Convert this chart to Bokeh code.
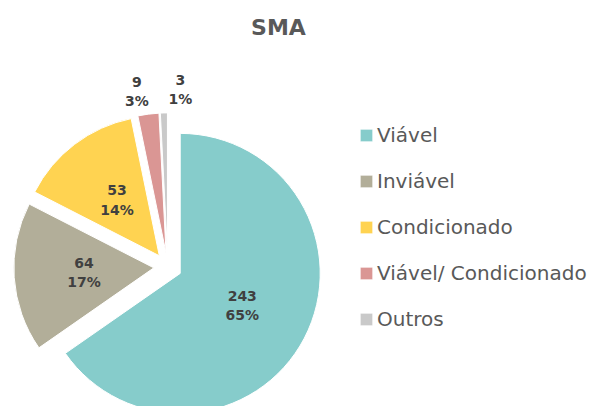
import math
from bokeh.plotting import figure
from bokeh.models import ColumnDataSource, Range1d, Legend, LegendItem, Label
from bokeh.core.properties import value
from bokeh.embed import file_html
from bokeh.resources import INLINE

categories = ["Viável", "Inviável", "Condicionado", "Viável/ Condicionado", "Outros"]
counts = [243, 64, 53, 9, 3]
pct_labels = ["65%", "17%", "14%", "3%", "1%"]
colors = ["#86CCCB", "#B2AE99", "#FFD351", "#DA9694", "#C9C9C9"]

# layout (pixels)
W, H = 613, 406
cx, cy = 167.3, 139.6
R = 140
explode = 14
label_rf = [0.5, 0.5, 0.5, 1.17, 1.17]
label_nudge = [0, 0, 0, 3, -6]

total = sum(counts)
starts, ends, xs, ys, lx, ly, texts = [], [], [], [], [], [], []
cum = 0.0
for i, c in enumerate(counts):
    a0 = math.pi / 2 - 2 * math.pi * cum / total
    cum += c
    a1 = math.pi / 2 - 2 * math.pi * cum / total
    mid = (a0 + a1) / 2
    x = cx + explode * math.cos(mid)
    y = cy + explode * math.sin(mid)
    starts.append(a0)
    ends.append(a1)
    xs.append(x)
    ys.append(y)
    ma = mid + math.radians(label_nudge[i])
    lx.append(x + label_rf[i] * R * math.cos(ma))
    ly.append(y + label_rf[i] * R * math.sin(ma))
    texts.append(f"{c}\n{pct_labels[i]}")

src = ColumnDataSource(dict(x=xs, y=ys, start=starts, end=ends, color=colors, cat=categories))
lsrc = ColumnDataSource(dict(x=lx, y=ly, t=texts))

p = figure(width=W, height=H, output_backend="svg", toolbar_location=None,
           x_range=Range1d(0, W), y_range=Range1d(0, H), min_border=0)
p.axis.visible = False
p.grid.visible = False
p.outline_line_color = None
p.background_fill_color = "white"

r = p.wedge(x="x", y="y", radius=R, start_angle="start", end_angle="end",
            direction="clock", fill_color="color", line_color="white", line_width=1,
            source=src)

p.text(x="x", y="y", text="t", source=lsrc, text_align="center", text_baseline="middle",
       text_font=value("DejaVu Sans"), text_font_style="bold", text_font_size="14px",
       text_color="#404040", text_line_height=1.2)

items = [LegendItem(label=cat, renderers=[r], index=i) for i, cat in enumerate(categories)]
legend = Legend(items=items, location=(358, 75), orientation="vertical",
                glyph_width=16, glyph_height=16, label_standoff=3, spacing=22,
                padding=0, margin=0, label_height=23,
                label_text_font="DejaVu Sans", label_text_font_size="20px",
                label_text_color="#595959", border_line_color=None,
                background_fill_alpha=0)
p.add_layout(legend)

title = Label(x=278, y=379, text="SMA", text_align="center", text_baseline="middle",
              text_font="DejaVu Sans", text_font_style="bold", text_font_size="22px",
              text_color="#595959")
p.add_layout(title)

open("out.html", "w").write(file_html(p, INLINE))
